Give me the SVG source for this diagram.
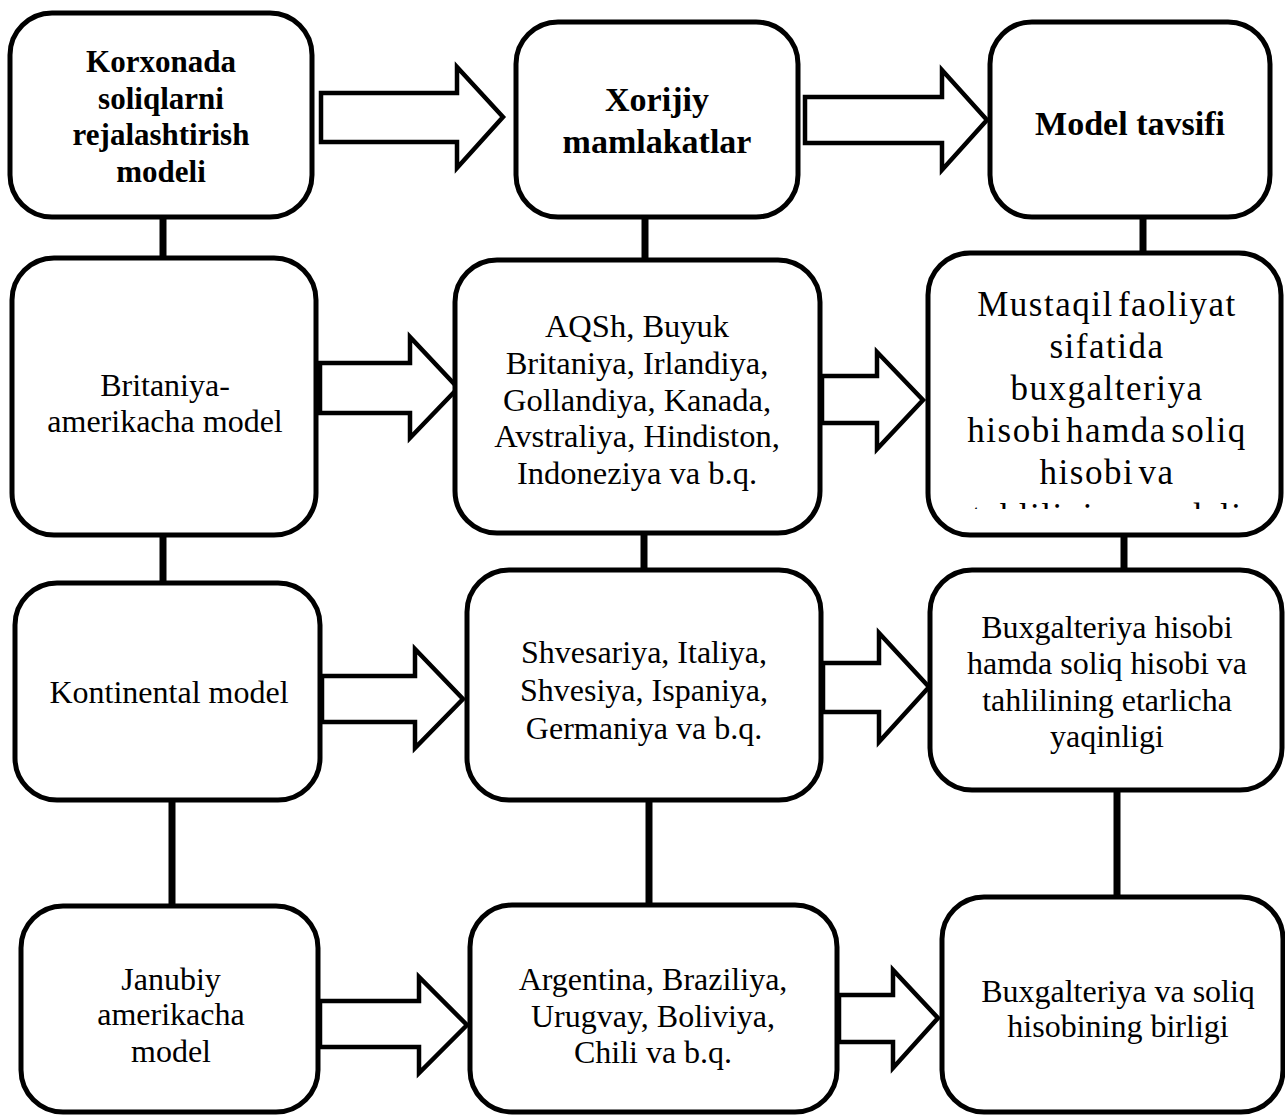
<svg xmlns="http://www.w3.org/2000/svg" width="1285" height="1117" viewBox="0 0 1285 1117">
<style>
.box{fill:#fff;stroke:#000;stroke-width:5}
.arrow{fill:#fff;stroke:#000;stroke-width:4.5;stroke-linejoin:miter}
.conn{stroke:#000;stroke-width:7;fill:none}
.t{font-family:"Liberation Serif","Times New Roman",serif;font-size:32px;text-anchor:middle;fill:#000}
.b{font-weight:bold}
.h1{font-size:31px}
.h2{font-size:34px}
.m{font-size:32.5px}
.big{font-size:35px;letter-spacing:1.5px;word-spacing:-6px}
</style>
<defs>
<clipPath id="clipC2"><rect x="930" y="256" width="350" height="253"/></clipPath>
</defs>
<rect width="1285" height="1117" fill="#fff"/>
<g id="connectors">
<line class="conn" x1="163" y1="215" x2="163" y2="260"/>
<line class="conn" x1="163" y1="533" x2="163" y2="585"/>
<line class="conn" x1="172" y1="798" x2="172" y2="908"/>
<line class="conn" x1="645" y1="215" x2="645" y2="262"/>
<line class="conn" x1="644" y1="531" x2="644" y2="572"/>
<line class="conn" x1="649" y1="798" x2="649" y2="907"/>
<line class="conn" x1="1143" y1="215" x2="1143" y2="255"/>
<line class="conn" x1="1124" y1="533" x2="1124" y2="572"/>
<line class="conn" x1="1117" y1="788" x2="1117" y2="899"/>
<polygon class="arrow" points="321,93 457,93 457,67 503,117 457,168 457,142 321,142"/>
<polygon class="arrow" points="805,97 942,97 942,70 987,120 942,170 942,143 805,143"/>
<polygon class="arrow" points="320,363 410,363 410,337 458,388 410,438 410,413 320,413"/>
<polygon class="arrow" points="822,376 877,376 877,352 923,400 877,449 877,423 822,423"/>
<polygon class="arrow" points="322,676 415,676 415,649 463,699 415,748 415,722 322,722"/>
<polygon class="arrow" points="823,663 879,663 879,633 929,687 879,742 879,712 823,712"/>
<polygon class="arrow" points="320,1001 419,1001 419,977 467,1025 419,1073 419,1047 320,1047"/>
<polygon class="arrow" points="839,995 893,995 893,970 938,1018 893,1068 893,1042 839,1042"/>
</g>
<g id="A1">
<rect class="box" x="10" y="13" width="302" height="204" rx="42"/>
<text class="t b h1" x="161"><tspan x="161" y="72">Korxonada</tspan><tspan x="161" y="109">soliqlarni</tspan><tspan x="161" y="145">rejalashtirish</tspan><tspan x="161" y="182">modeli</tspan></text>
</g>
<g id="B1">
<rect class="box" x="516" y="22" width="282" height="195" rx="42"/>
<text class="t b h2" x="657"><tspan x="657" y="111">Xorijiy</tspan><tspan x="657" y="153">mamlakatlar</tspan></text>
</g>
<g id="C1">
<rect class="box" x="990" y="22" width="280" height="195" rx="42"/>
<text class="t b h2" x="1130" y="135">Model tavsifi</text>
</g>
<g id="A2">
<rect class="box" x="12" y="258" width="304" height="277" rx="42"/>
<text class="t" x="165"><tspan x="165" y="396">Britaniya-</tspan><tspan x="165" y="432">amerikacha model</tspan></text>
</g>
<g id="B2">
<rect class="box" x="455" y="260" width="365" height="273" rx="42"/>
<text class="t m" x="637"><tspan x="637" y="337">AQSh, Buyuk</tspan><tspan x="637" y="374">Britaniya, Irlandiya,</tspan><tspan x="637" y="411">Gollandiya, Kanada,</tspan><tspan x="637" y="447">Avstraliya, Hindiston,</tspan><tspan x="637" y="484">Indoneziya va b.q.</tspan></text>
</g>
<g id="C2">
<rect class="box" x="928" y="253" width="353" height="282" rx="42"/>
<text class="t big" x="1107" clip-path="url(#clipC2)"><tspan x="1107" y="316">Mustaqil faoliyat</tspan><tspan x="1107" y="358">sifatida</tspan><tspan x="1107" y="400">buxgalteriya</tspan><tspan x="1107" y="442">hisobi hamda soliq</tspan><tspan x="1107" y="484">hisobi va</tspan><tspan x="1107" y="528">tahlilining modeli</tspan></text>
</g>
<g id="A3">
<rect class="box" x="15" y="583" width="305" height="217" rx="42"/>
<text class="t" x="169" y="703">Kontinental model</text>
</g>
<g id="B3">
<rect class="box" x="467" y="570" width="354" height="230" rx="42"/>
<text class="t" x="644"><tspan x="644" y="663">Shvesariya, Italiya,</tspan><tspan x="644" y="701">Shvesiya, Ispaniya,</tspan><tspan x="644" y="739">Germaniya va b.q.</tspan></text>
</g>
<g id="C3">
<rect class="box" x="930" y="570" width="352" height="220" rx="42"/>
<text class="t" x="1107"><tspan x="1107" y="638">Buxgalteriya hisobi</tspan><tspan x="1107" y="674">hamda soliq hisobi va</tspan><tspan x="1107" y="711">tahlilining etarlicha</tspan><tspan x="1107" y="747">yaqinligi</tspan></text>
</g>
<g id="A4">
<rect class="box" x="21" y="906" width="297" height="206" rx="42"/>
<text class="t" x="171"><tspan x="171" y="990">Janubiy</tspan><tspan x="171" y="1025">amerikacha</tspan><tspan x="171" y="1062">model</tspan></text>
</g>
<g id="B4">
<rect class="box" x="470" y="905" width="367" height="207" rx="42"/>
<text class="t" x="653"><tspan x="653" y="990">Argentina, Braziliya,</tspan><tspan x="653" y="1027">Urugvay, Boliviya,</tspan><tspan x="653" y="1063">Chili va b.q.</tspan></text>
</g>
<g id="C4">
<rect class="box" x="942" y="897" width="341" height="215" rx="42"/>
<text class="t" x="1118"><tspan x="1118" y="1002">Buxgalteriya va soliq</tspan><tspan x="1118" y="1037">hisobining birligi</tspan></text>
</g>
</svg>
